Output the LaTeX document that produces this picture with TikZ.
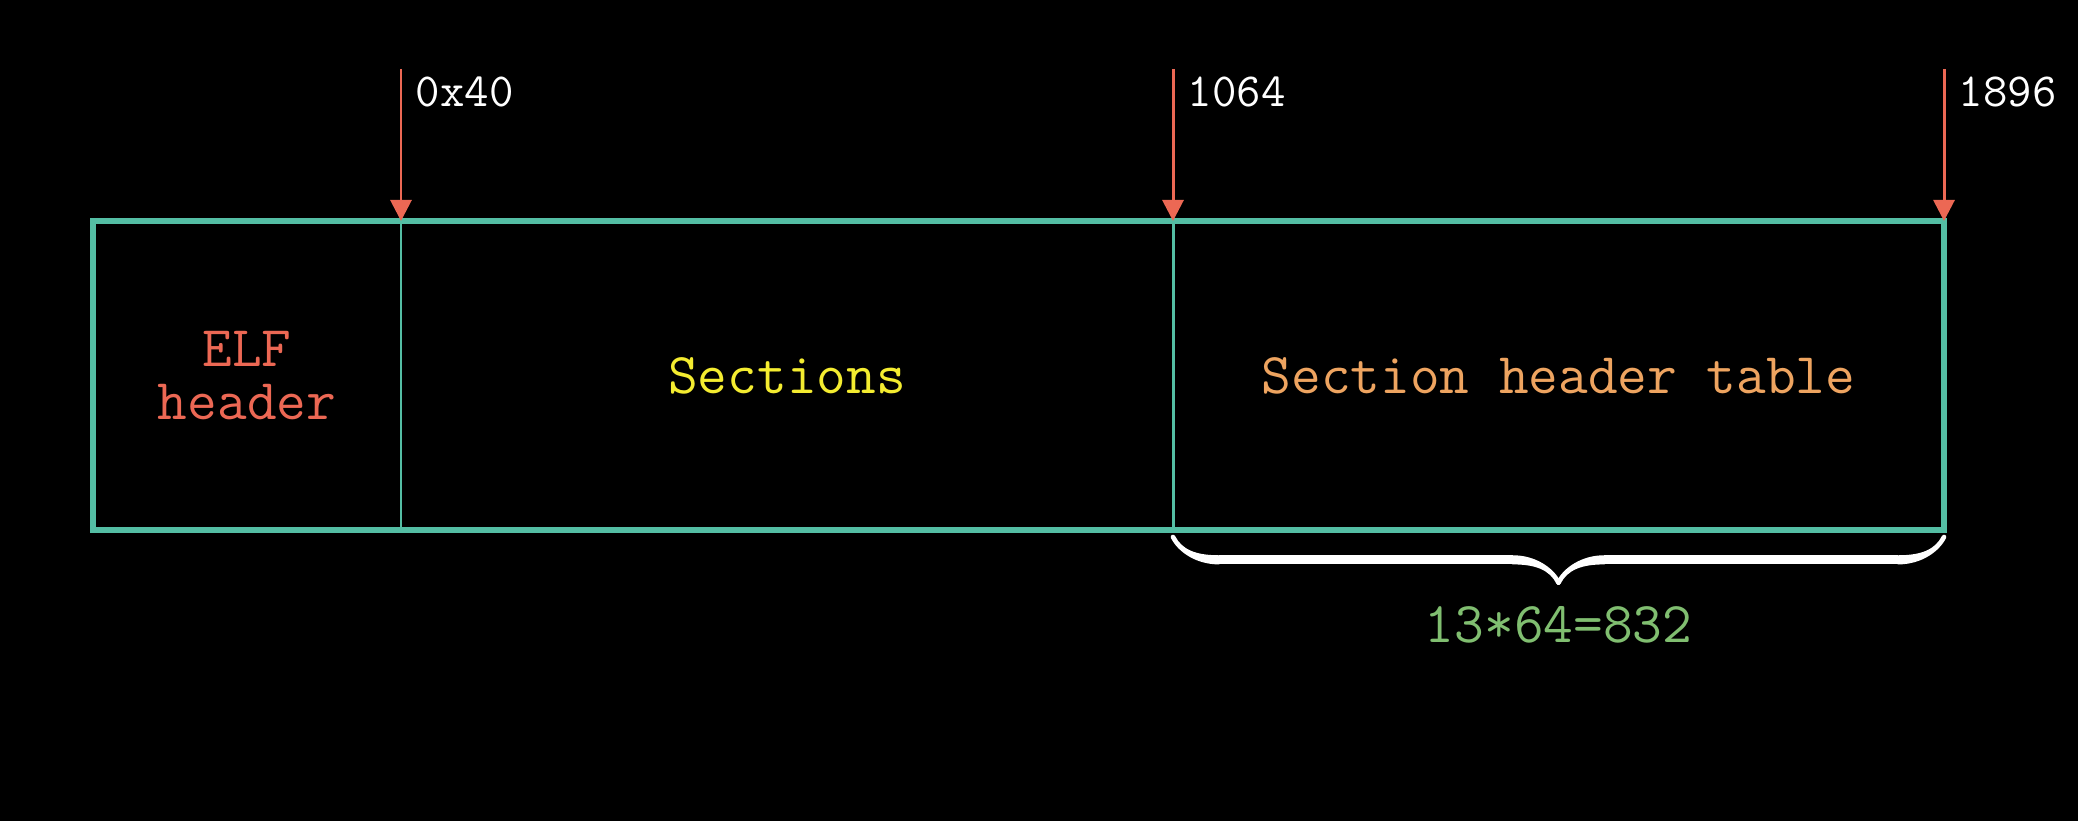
\documentclass[tikz,border=0pt]{standalone}
\usepackage{tikz}
\usetikzlibrary{arrows.meta, positioning, decorations.pathreplacing, calligraphy}

\definecolor{boxteal}{RGB}{84,190,164}
\definecolor{elfred}{RGB}{236,104,84}
\definecolor{secyellow}{RGB}{244,236,48}
\definecolor{shtorange}{RGB}{238,164,96}
\definecolor{sizegreen}{RGB}{128,190,112}

\begin{document}
\begin{tikzpicture}[
        cell/.style={rectangle, inner sep=0pt, outer sep=0pt, minimum height=3.09cm, align=center,
            font=\fontsize{16.4}{15}\selectfont\ttfamily},
        outerline/.style={draw=boxteal, line width=1.6pt},
        divline/.style={draw=boxteal, line width=0.85pt},
        offarrow/.style={draw=elfred, line width=0.85pt, -{Triangle[width=6pt,length=6pt,fill=elfred]}},
        offset/.style={text=white, inner xsep=4pt, inner ysep=2pt, anchor=north west,
            font=\fontsize{13.5}{16}\selectfont\ttfamily},
        sizelabel/.style={text=sizegreen, font=\fontsize{16.4}{20}\selectfont\ttfamily}
    ]
            % background and page size
            \fill[black] (0,0) rectangle (20.78,8.21);
            \useasboundingbox (0,0) rectangle (20.78,8.21);

            % the three parts of the file
            \node[cell, minimum width=3.08cm, text=elfred] (elf) at (2.47,4.455) {ELF\\header};
            \node[cell, minimum width=7.72cm, text=secyellow] (sec) [right = 0pt of elf] {Sections};
            \node[cell, minimum width=7.71cm, text=shtorange] (sht) [right = 0pt of sec] {Section header table};

            \draw[outerline] (elf.north west) rectangle (sht.south east);
            \draw[divline] (elf.north east) -- (elf.south east);
            \draw[divline] (sec.north east) -- (sec.south east);

            % offsets
            \coordinate[above = 1.52cm of elf.north east] (t1);
            \coordinate[above = 1.52cm of sec.north east] (t2);
            \coordinate[above = 1.52cm of sht.north east] (t3);
            \node[offset] (o1) at (t1) {0x40};
            \node[offset] (o2) at (t2) {1064};
            \node[offset] (o3) at (t3) {1896};
            \draw[offarrow] (t1) -- (elf.north east);
            \draw[offarrow] (t2) -- (sec.north east);
            \draw[offarrow] (t3) -- (sht.north east);

            % size of the section header table
            \coordinate[below = 0.07cm of sht.south west] (bl);
            \coordinate[below = 0.07cm of sht.south east] (br);
            \draw[decorate, decoration={calligraphic brace, amplitude=13pt, mirror},
                line width=2.6pt, pen colour={white}] (bl) -- (br);
            \node[sizelabel] (size) [below = 0.64cm of sht.south] {13*64=832};
        \end{tikzpicture}
\end{document}
